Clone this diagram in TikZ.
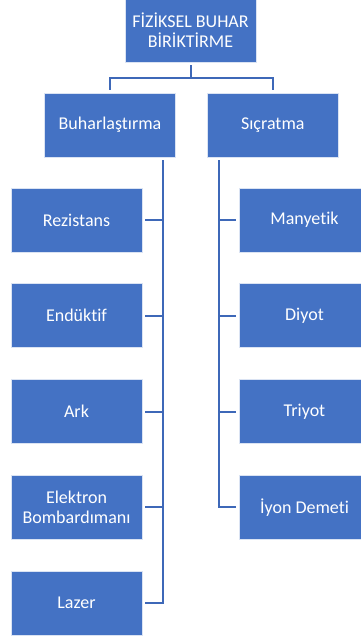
\documentclass[tikz,border=0pt]{standalone}
\usepackage{fontspec}
\setmainfont{Carlito}[Ligatures=NoCommon]
\usetikzlibrary{positioning}
\definecolor{smartblue}{HTML}{4472C4}
\definecolor{linkblue}{HTML}{3E68B8}

\begin{document}
\begin{tikzpicture}[x=1pt,y=1pt,node distance=31pt and 31pt,
 box/.style={draw=white!80!smartblue,line width=0.8pt,fill=smartblue,text=white,align=center,font=\fontsize{18}{20.5}\selectfont,minimum width=131pt,minimum height=64pt,inner sep=2pt},
 link/.style={draw=linkblue,line width=2pt,shorten <=3pt,shorten >=3pt}]
\useasboundingbox (0,0) rectangle (360,-637);
\node[box] (pvd) at (190.5,-30) {FİZİKSEL BUHAR\\BİRİKTİRME};
\node[box] (buhar) at (110,-125) {Buharlaştırma};
\node[box,right=of buhar] (sicrat) {Sıçratma};
% left branch
\node[box] (rez) at (76.5,-220) {Rezistans};
\node[box,below=of rez] (enduk) {Endüktif};
\node[box,below=of enduk] (ark) {Ark};
\node[box,below=of ark] (elek) {Elektron\\Bombardımanı};
\node[box,below=of elek] (lazer) {Lazer};
% right branch
\node[box] (many) at (304.5,-220) {Manyetik};
\node[box,below=of many] (diyot) {Diyot};
\node[box,below=of diyot] (triyot) {Triyot};
\node[box,below=of triyot] (iyon) {İyon Demeti};
\draw[link] (pvd.south) -- ++(0,-16) -| (buhar.north);
\draw[link] (pvd.south) -- ++(0,-16) -| (sicrat.north);
\foreach \c in {rez,enduk,ark,elek,lazer}
  \draw[link] ([xshift=53pt]buhar.south) |- (\c.east);
\foreach \c in {many,diyot,triyot,iyon}
  \draw[link] ([xshift=-53.5pt]sicrat.south) |- (\c.west);
\end{tikzpicture}
\end{document}
